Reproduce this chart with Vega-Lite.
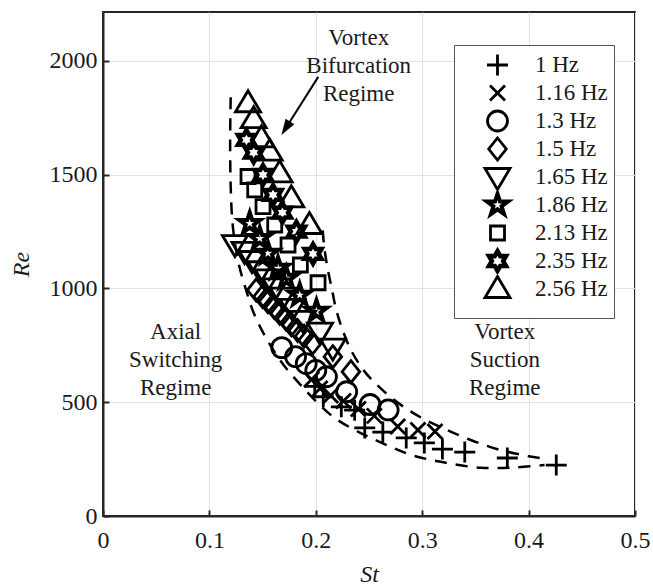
{
  "$schema": "https://vega.github.io/schema/vega-lite/v6.json",
  "width": 532,
  "height": 504,
  "autosize": {"type": "none"},
  "padding": {"left": 103, "top": 12, "right": 18, "bottom": 69},
  "background": "white",
  "config": {
    "view": {"stroke": "#262626", "strokeWidth": 2},
    "font": "Liberation Serif"
  },
  "datasets": {
    "pts": [
      {"f": "1 Hz", "x": 0.199, "y": 570}, {"f": "1 Hz", "x": 0.207, "y": 524}, {"f": "1 Hz", "x": 0.224, "y": 480}, {"f": "1 Hz", "x": 0.2365, "y": 465}, {"f": "1 Hz", "x": 0.246, "y": 387}, {"f": "1 Hz", "x": 0.263, "y": 369}, {"f": "1 Hz", "x": 0.285, "y": 343}, {"f": "1 Hz", "x": 0.302, "y": 321}, {"f": "1 Hz", "x": 0.319, "y": 294}, {"f": "1 Hz", "x": 0.34, "y": 281}, {"f": "1 Hz", "x": 0.38, "y": 255}, {"f": "1 Hz", "x": 0.426, "y": 224},
      {"f": "1.16 Hz", "x": 0.196, "y": 600}, {"f": "1.16 Hz", "x": 0.204, "y": 560}, {"f": "1.16 Hz", "x": 0.214, "y": 530}, {"f": "1.16 Hz", "x": 0.226, "y": 505}, {"f": "1.16 Hz", "x": 0.24, "y": 470}, {"f": "1.16 Hz", "x": 0.255, "y": 440}, {"f": "1.16 Hz", "x": 0.277, "y": 393}, {"f": "1.16 Hz", "x": 0.296, "y": 378}, {"f": "1.16 Hz", "x": 0.312, "y": 371},
      {"f": "1.3 Hz", "x": 0.168, "y": 740}, {"f": "1.3 Hz", "x": 0.181, "y": 700}, {"f": "1.3 Hz", "x": 0.191, "y": 670}, {"f": "1.3 Hz", "x": 0.2, "y": 640}, {"f": "1.3 Hz", "x": 0.21, "y": 612}, {"f": "1.3 Hz", "x": 0.229, "y": 546}, {"f": "1.3 Hz", "x": 0.251, "y": 490}, {"f": "1.3 Hz", "x": 0.268, "y": 466},
      {"f": "1.5 Hz", "x": 0.144, "y": 993}, {"f": "1.5 Hz", "x": 0.15, "y": 965}, {"f": "1.5 Hz", "x": 0.155, "y": 942}, {"f": "1.5 Hz", "x": 0.161, "y": 916}, {"f": "1.5 Hz", "x": 0.166, "y": 891}, {"f": "1.5 Hz", "x": 0.172, "y": 866}, {"f": "1.5 Hz", "x": 0.177, "y": 840}, {"f": "1.5 Hz", "x": 0.183, "y": 815}, {"f": "1.5 Hz", "x": 0.189, "y": 790}, {"f": "1.5 Hz", "x": 0.197, "y": 760}, {"f": "1.5 Hz", "x": 0.216, "y": 700}, {"f": "1.5 Hz", "x": 0.233, "y": 634},
      {"f": "1.65 Hz", "x": 0.124, "y": 1195}, {"f": "1.65 Hz", "x": 0.133, "y": 1165}, {"f": "1.65 Hz", "x": 0.14, "y": 1125}, {"f": "1.65 Hz", "x": 0.148, "y": 1080}, {"f": "1.65 Hz", "x": 0.155, "y": 1044}, {"f": "1.65 Hz", "x": 0.162, "y": 1005}, {"f": "1.65 Hz", "x": 0.169, "y": 964}, {"f": "1.65 Hz", "x": 0.178, "y": 915}, {"f": "1.65 Hz", "x": 0.188, "y": 862}, {"f": "1.65 Hz", "x": 0.204, "y": 810}, {"f": "1.65 Hz", "x": 0.216, "y": 740},
      {"f": "1.86 Hz", "x": 0.1379, "y": 1286}, {"f": "1.86 Hz", "x": 0.1473, "y": 1220}, {"f": "1.86 Hz", "x": 0.155, "y": 1155}, {"f": "1.86 Hz", "x": 0.1645, "y": 1089}, {"f": "1.86 Hz", "x": 0.1723, "y": 1045}, {"f": "1.86 Hz", "x": 0.1849, "y": 971}, {"f": "1.86 Hz", "x": 0.2006, "y": 900},
      {"f": "2.13 Hz", "x": 0.1363, "y": 1492}, {"f": "2.13 Hz", "x": 0.1426, "y": 1433}, {"f": "2.13 Hz", "x": 0.1504, "y": 1360}, {"f": "2.13 Hz", "x": 0.1614, "y": 1279}, {"f": "2.13 Hz", "x": 0.1739, "y": 1191}, {"f": "2.13 Hz", "x": 0.1855, "y": 1103}, {"f": "2.13 Hz", "x": 0.2021, "y": 1025},
      {"f": "2.35 Hz", "x": 0.1348, "y": 1653}, {"f": "2.35 Hz", "x": 0.1416, "y": 1597}, {"f": "2.35 Hz", "x": 0.1504, "y": 1499}, {"f": "2.35 Hz", "x": 0.1598, "y": 1411}, {"f": "2.35 Hz", "x": 0.1686, "y": 1333}, {"f": "2.35 Hz", "x": 0.1818, "y": 1250}, {"f": "2.35 Hz", "x": 0.1974, "y": 1152},
      {"f": "2.56 Hz", "x": 0.1363, "y": 1814}, {"f": "2.56 Hz", "x": 0.1416, "y": 1744}, {"f": "2.56 Hz", "x": 0.1489, "y": 1660}, {"f": "2.56 Hz", "x": 0.1567, "y": 1601}, {"f": "2.56 Hz", "x": 0.166, "y": 1506}, {"f": "2.56 Hz", "x": 0.177, "y": 1396}, {"f": "2.56 Hz", "x": 0.194, "y": 1279}
    ],
    "curves": [
      {"c": "lower", "i": 0, "x": 0.12, "y": 1840}, {"c": "lower", "i": 1, "x": 0.1195, "y": 1650}, {"c": "lower", "i": 2, "x": 0.12, "y": 1450}, {"c": "lower", "i": 3, "x": 0.1215, "y": 1300}, {"c": "lower", "i": 4, "x": 0.124, "y": 1200}, {"c": "lower", "i": 5, "x": 0.128, "y": 1100}, {"c": "lower", "i": 6, "x": 0.134, "y": 1000}, {"c": "lower", "i": 7, "x": 0.141, "y": 900}, {"c": "lower", "i": 8, "x": 0.15, "y": 810}, {"c": "lower", "i": 9, "x": 0.16, "y": 730}, {"c": "lower", "i": 10, "x": 0.172, "y": 650}, {"c": "lower", "i": 11, "x": 0.186, "y": 575}, {"c": "lower", "i": 12, "x": 0.2, "y": 505}, {"c": "lower", "i": 13, "x": 0.218, "y": 430}, {"c": "lower", "i": 14, "x": 0.24, "y": 370}, {"c": "lower", "i": 15, "x": 0.265, "y": 315}, {"c": "lower", "i": 16, "x": 0.29, "y": 268}, {"c": "lower", "i": 17, "x": 0.32, "y": 236}, {"c": "lower", "i": 18, "x": 0.355, "y": 212}, {"c": "lower", "i": 19, "x": 0.385, "y": 213}, {"c": "lower", "i": 20, "x": 0.415, "y": 224},
      {"c": "upper", "i": 0, "x": 0.2065, "y": 1255}, {"c": "upper", "i": 1, "x": 0.208, "y": 1180}, {"c": "upper", "i": 2, "x": 0.211, "y": 1090}, {"c": "upper", "i": 3, "x": 0.215, "y": 1000}, {"c": "upper", "i": 4, "x": 0.219, "y": 910}, {"c": "upper", "i": 5, "x": 0.225, "y": 820}, {"c": "upper", "i": 6, "x": 0.233, "y": 730}, {"c": "upper", "i": 7, "x": 0.245, "y": 640}, {"c": "upper", "i": 8, "x": 0.26, "y": 565}, {"c": "upper", "i": 9, "x": 0.278, "y": 495}, {"c": "upper", "i": 10, "x": 0.298, "y": 435}, {"c": "upper", "i": 11, "x": 0.32, "y": 385}, {"c": "upper", "i": 12, "x": 0.345, "y": 335}, {"c": "upper", "i": 13, "x": 0.372, "y": 292}, {"c": "upper", "i": 14, "x": 0.4, "y": 263}, {"c": "upper", "i": 15, "x": 0.415, "y": 252}
    ],
    "notes": [
      {"x": 0.2403, "y": 2101, "t": "Vortex\nBifurcation\nRegime"},
      {"x": 0.0683, "y": 809, "t": "Axial\nSwitching\nRegime"},
      {"x": 0.3776, "y": 809, "t": "Vortex\nSuction\nRegime"}
    ],
    "arrow": [
      {"x": 0.2023, "y": 1930, "x2": 0.1717, "y2": 1704}
    ]
  },
  "encoding": {
    "x": {
      "field": "x", "type": "quantitative",
      "scale": {"domain": [0, 0.5], "nice": false, "zero": false},
      "axis": {
        "values": [0, 0.1, 0.2, 0.3, 0.4, 0.5], "format": ".1~f",
        "title": "St", "titleFont": "Liberation Serif", "titleFontStyle": "italic", "titleFontWeight": "normal", "titleFontSize": 24, "titleColor": "#1a1a1a", "titlePadding": 10,
        "labelFont": "Liberation Serif", "labelFontSize": 24, "labelColor": "#1a1a1a", "labelPadding": 18, "labelFlush": false, "labelOverlap": false,
        "domainColor": "#262626", "domainWidth": 2, "tickColor": "#262626", "tickSize": -6, "tickWidth": 2,
        "grid": true, "gridColor": "#e2e2e2", "gridWidth": 1
      }
    },
    "y": {
      "field": "y", "type": "quantitative",
      "scale": {"domain": [0, 2215], "nice": false, "zero": false},
      "axis": {
        "values": [0, 500, 1000, 1500, 2000], "format": "d",
        "title": "Re", "titleFont": "Liberation Serif", "titleFontStyle": "italic", "titleFontWeight": "normal", "titleFontSize": 24, "titleColor": "#1a1a1a", "titlePadding": 16,
        "labelFont": "Liberation Serif", "labelFontSize": 24, "labelColor": "#1a1a1a", "labelPadding": 12, "labelFlush": false, "labelOverlap": false,
        "domainColor": "#262626", "domainWidth": 2, "tickColor": "#262626", "tickSize": -6, "tickWidth": 2,
        "grid": true, "gridColor": "#e2e2e2", "gridWidth": 1
      }
    }
  },
  "layer": [
    {
      "data": {"name": "curves"},
      "mark": {"type": "line", "color": "black", "strokeWidth": 2.5, "strokeDash": [12, 9], "interpolate": "catmull-rom"},
      "encoding": {"detail": {"field": "c"}, "order": {"field": "i", "type": "quantitative"}}
    },
    {
      "data": {"name": "pts"},
      "mark": {"type": "point", "filled": false, "color": "black", "strokeWidth": 2.8, "size": 400, "opacity": 1},
      "encoding": {
        "shape": {
          "field": "f", "type": "nominal",
          "scale": {
            "domain": ["1 Hz", "1.16 Hz", "1.3 Hz", "1.5 Hz", "1.65 Hz", "1.86 Hz", "2.13 Hz", "2.35 Hz", "2.56 Hz"],
            "range": [
              "M-1.05,0H1.05M0,-1.05V1.05",
              "M-0.75,-0.75L0.75,0.75M-0.75,0.75L0.75,-0.75",
              "circle",
              "M0,-1.1L0.88,0L0,1.1L-0.88,0Z",
              "M-1.25,-0.85L1.25,-0.85L0,1.25Z",
              "M0,-1.3L0.294,-0.405L1.236,-0.402L0.476,0.155L0.764,1.052L0,0.5L-0.764,1.052L-0.476,0.155L-1.236,-0.402L-0.294,-0.405ZM0,-0.91L0.206,-0.283L0.865,-0.281L0.333,0.108L0.535,0.736L0,0.35L-0.535,0.736L-0.333,0.108L-0.865,-0.281L-0.206,-0.283Z",
              "M-0.7,-0.7H0.7V0.7H-0.7Z",
              "M0,-1.15L0.332,-0.575L0.996,-0.575L0.664,0L0.996,0.575L0.332,0.575L0,1.15L-0.332,0.575L-0.996,0.575L-0.664,0L-0.996,-0.575L-0.332,-0.575ZM0,-0.805L0.232,-0.4025L0.697,-0.4025L0.465,0L0.697,0.4025L0.232,0.4025L0,0.805L-0.232,0.4025L-0.697,0.4025L-0.465,0L-0.697,-0.4025L-0.232,-0.4025Z",
              "M-1.25,0.85L1.25,0.85L0,-1.25Z"
            ]
          },
          "legend": {
            "orient": "none", "legendX": 351, "legendY": 33,
            "title": " ", "titleOrient": "bottom", "titleFontSize": 1, "titlePadding": 8,
            "strokeColor": "#555", "fillColor": "white", "padding": 6, "rowPadding": 0, "clipHeight": 28,
            "symbolSize": 400, "symbolStrokeWidth": 2.8, "symbolStrokeColor": "black", "symbolFillColor": "transparent", "symbolOffset": 26,
            "labelFont": "Liberation Serif", "labelFontSize": 23, "labelColor": "#1a1a1a", "labelOffset": 26, "labelLimit": 200,
            "labelExpr": "datum.label + ' \u2006'"
          }
        }
      }
    },
    {
      "data": {"name": "notes"},
      "mark": {"type": "text", "font": "Liberation Serif", "fontSize": 23, "color": "#1a1a1a", "align": "center", "baseline": "middle", "lineBreak": "\n", "lineHeight": 28},
      "encoding": {"text": {"field": "t"}}
    },
    {
      "data": {"name": "arrow"},
      "mark": {"type": "rule", "color": "black", "strokeWidth": 2},
      "encoding": {"x2": {"field": "x2"}, "y2": {"field": "y2"}}
    },
    {
      "data": {"name": "arrow"},
      "mark": {"type": "point", "filled": true, "color": "black", "opacity": 1, "size": 256, "angle": 212.4, "shape": "M0,-1L0.65,1L-0.65,1Z"},
      "encoding": {"x": {"field": "x2", "type": "quantitative"}, "y": {"field": "y2", "type": "quantitative"}}
    }
  ]
}
